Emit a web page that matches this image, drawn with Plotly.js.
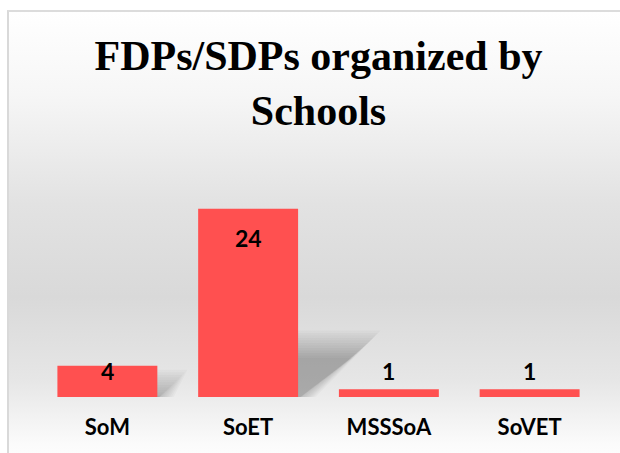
<!DOCTYPE html>
<html>
<head>
<meta charset="utf-8">
<script src="https://cdn.plot.ly/plotly-3.0.1.min.js"></script>
<style>
  html, body { margin: 0; padding: 0; width: 620px; height: 453px; overflow: hidden; background: #ffffff; }
  #frame {
    position: absolute; left: 7px; top: 10px; width: 640px; height: 460px;
    border-left: 2px solid #d9d9d9; border-top: 2px solid #dcdcdc;
    background: linear-gradient(to bottom, #ffffff 0%, #f6f6f6 18%, #e2e2e2 42%, #d9d9d9 62%, #e6e6e6 80%, #fbfbfb 94%, #ffffff 100%);
  }
  #chart { position: absolute; left: 0; top: 0; width: 620px; height: 453px; }
</style>
</head>
<body>
<div id="frame"></div>
<div id="chart"></div>
<script>
const categories = ["SoM", "SoET", "MSSSoA", "SoVET"];
const values = [4, 24, 1, 1];
const titleText = "FDPs/SDPs organized by<br>Schools";

const marginL = 37, marginR = 20, marginT = 146, marginB = 56;
const yMax = 32;
const bargap = 0.29;
const plotH = 453 - marginT - marginB;
const plotW = 620 - marginL - marginR;
const ppuY = plotH / yMax;
const ppuX = plotW / categories.length;

// label positions: inside end of bar, but never lower than a minimum height
const labelY = values.map(v => Math.max(v * ppuY - 29.5, 26.5) / ppuY);

const trace = {
  type: "bar",
  x: categories,
  y: values,
  marker: { color: "#FF5050", line: { width: 0 } },
  hoverinfo: "none"
};

const annotations = categories.map((c, i) => ({
  x: c, y: labelY[i], xref: "x", yref: "y",
  text: String(values[i]), showarrow: false,
  xanchor: "center", yanchor: "middle",
  font: { family: "Lato, 'Open Sans', sans-serif", size: 23, color: "#000000", weight: "bold" }
}));

// soft perspective shadows behind the bars (built from the bar values)
const shapes = [];
values.forEach((v, i) => {
  const barPx = v * ppuY;
  const H = 0.25 * barPx, S = 0.335 * barPx;
  if (H < 4) return;
  const xr = i + (1 - bargap) / 2;
  for (let k = 0; k < 12; k++) {
    const e = -8 + k * 2.5;
    const top = Math.max(H + e, 1);
    const right = Math.max(S + e, 1);
    const pts = [[-6, -2], [-6, top], [right, top], [Math.max(e, 0) * 0.8, -2]];
    const path = pts.map((p, j) => (j ? "L" : "M") + (xr + p[0] / ppuX) + "," + (p[1] / ppuY)).join(" ") + " Z";
    shapes.push({ type: "path", xref: "x", yref: "y", path: path, fillcolor: "#000000", opacity: 0.024, line: { width: 0 }, layer: "below" });
  }
});

const layout = {
  width: 620, height: 453,
  margin: { l: marginL, r: marginR, t: marginT, b: marginB },
  paper_bgcolor: "rgba(0,0,0,0)",
  plot_bgcolor: "rgba(0,0,0,0)",
  bargap: bargap,
  showlegend: false,
  title: {
    text: titleText,
    x: 0.5, xref: "paper", xanchor: "center",
    y: 0.845, yref: "container", yanchor: "top",
    font: { family: "'Liberation Serif', 'Times New Roman', serif", size: 42, color: "#000000", weight: "bold" }
  },
  xaxis: {
    showgrid: false, zeroline: false, showline: false, ticks: "",
    ticklabelstandoff: 15,
    tickfont: { family: "Lato, 'Open Sans', sans-serif", size: 22, color: "#000000", weight: "bold" }
  },
  yaxis: {
    range: [0, yMax], visible: false, showgrid: false, zeroline: false, fixedrange: true
  },
  shapes: shapes,
  annotations: annotations
};

Plotly.newPlot("chart", [trace], layout, { displayModeBar: false, staticPlot: true });
</script>
</body>
</html>
